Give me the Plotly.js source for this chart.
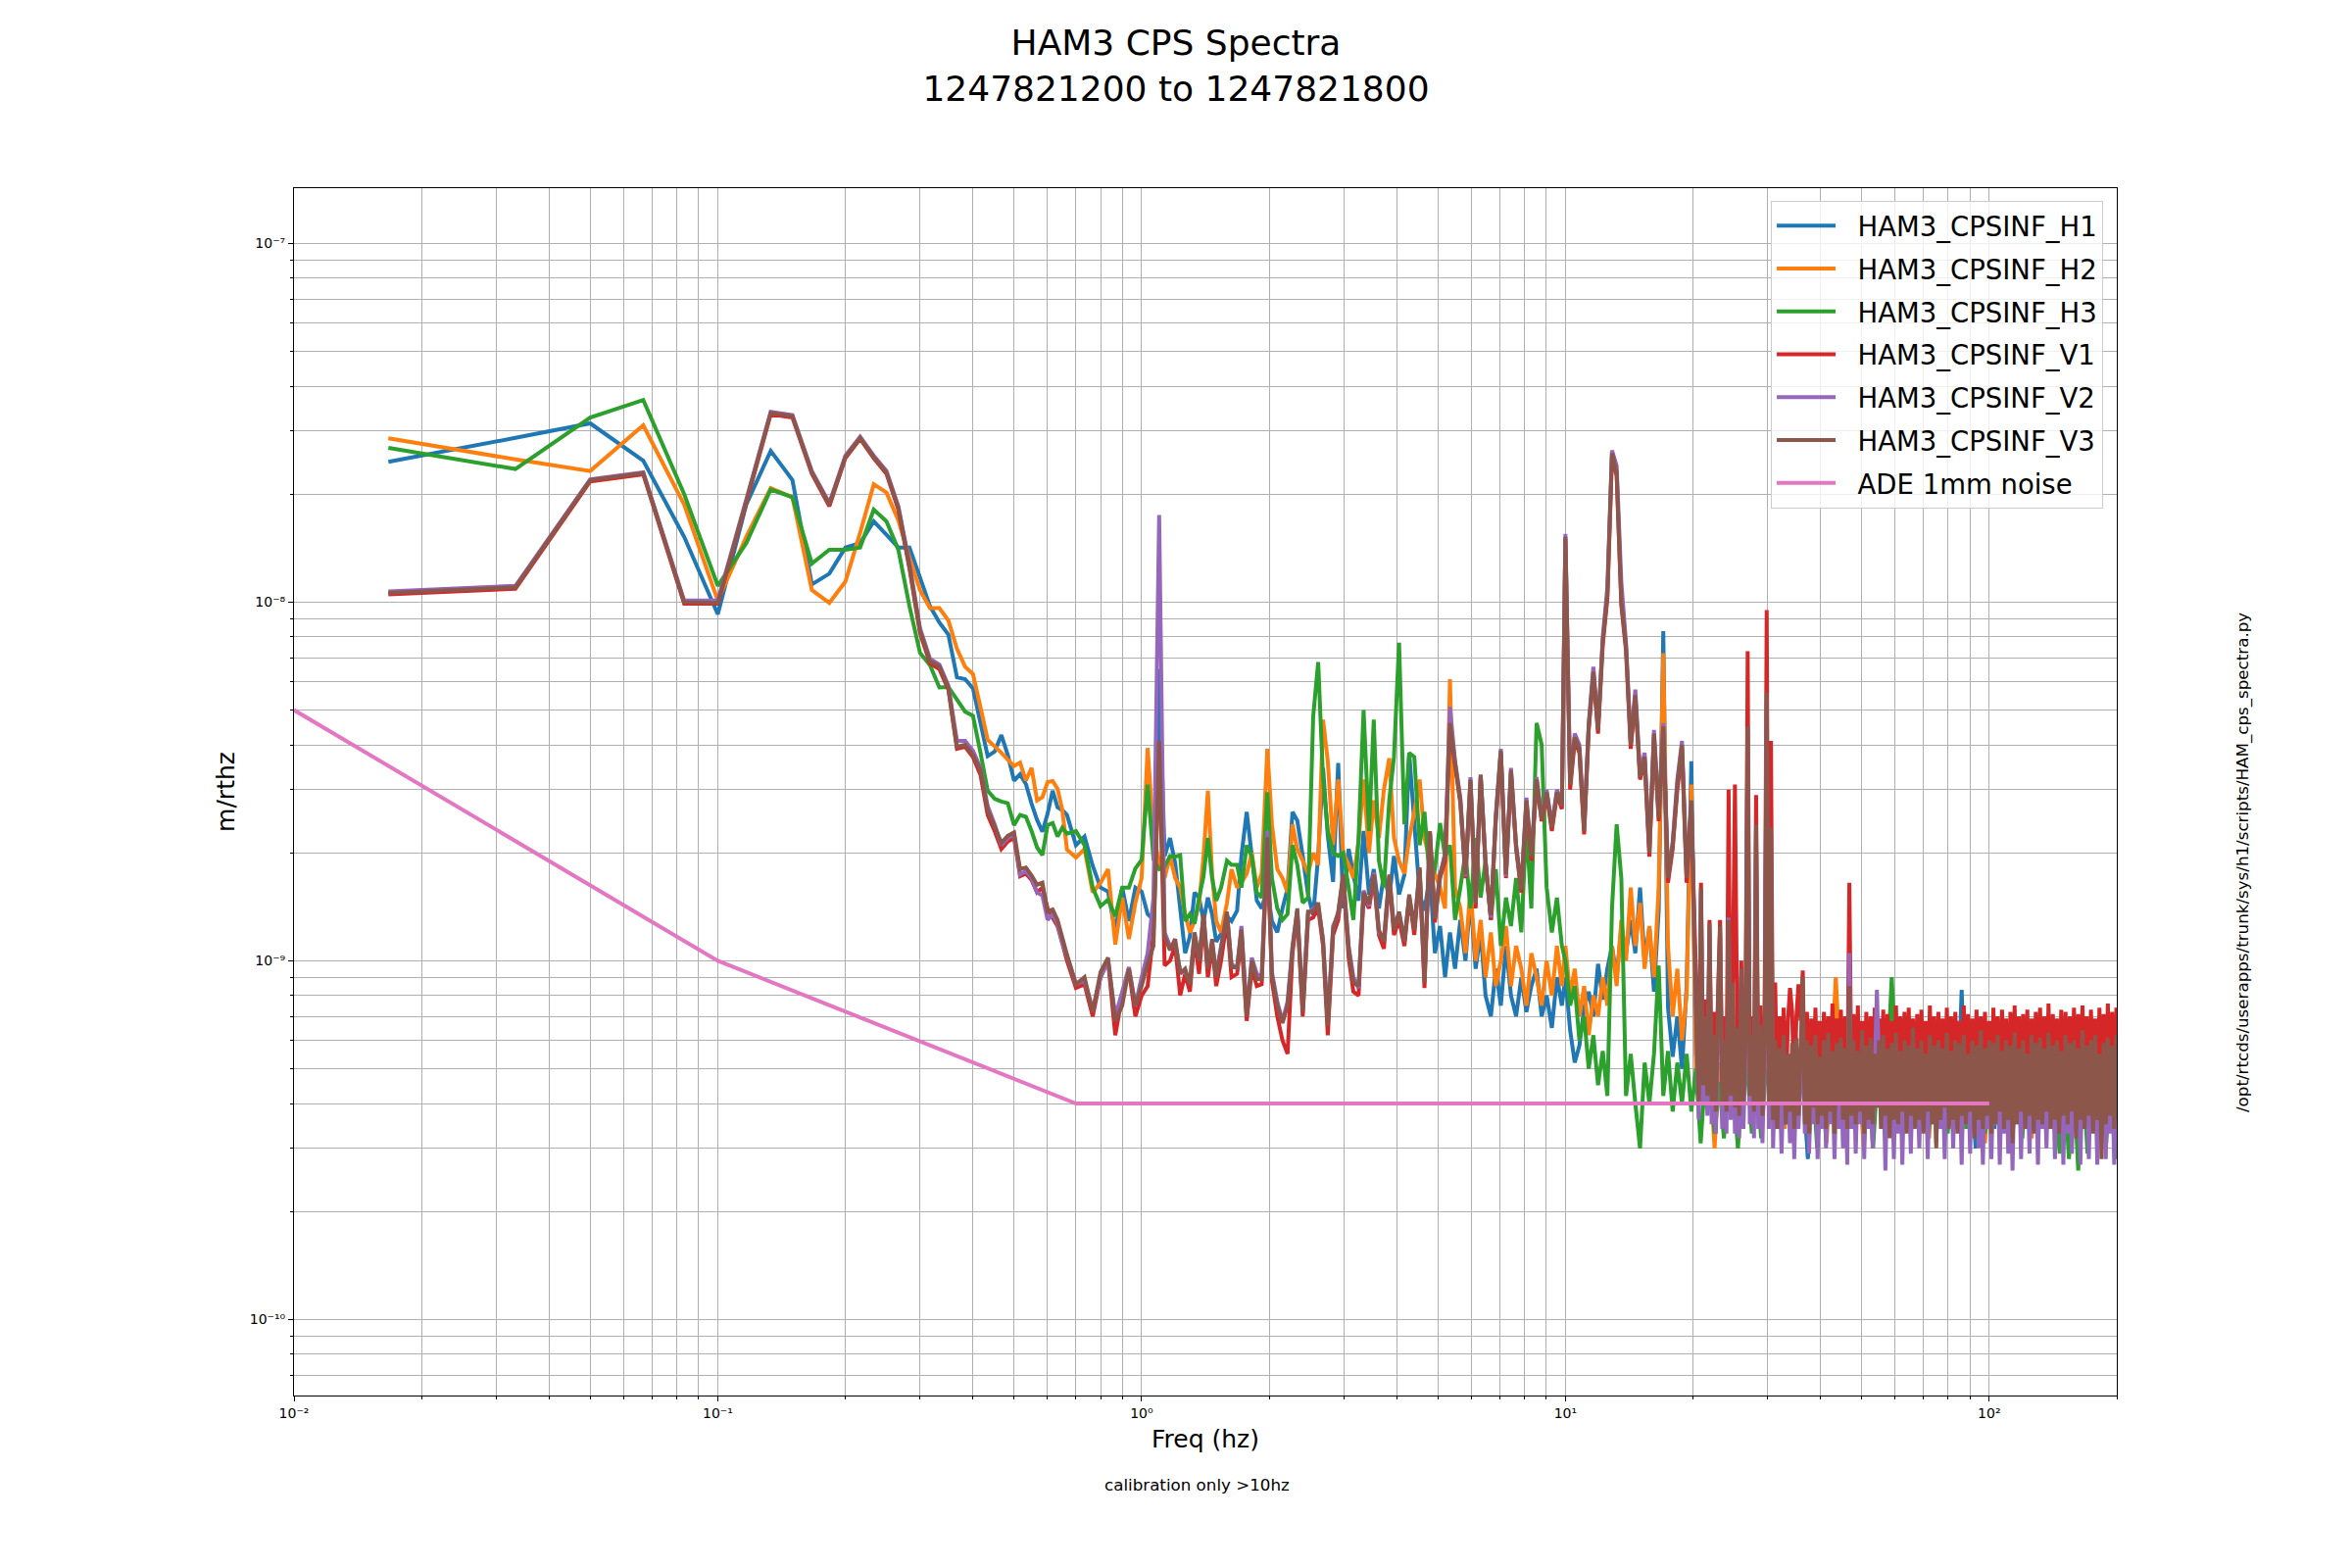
<!DOCTYPE html>
<html>
<head>
<meta charset="utf-8">
<script src="https://cdn.plot.ly/plotly-3.0.1.min.js"></script>
<style>
  html, body { margin: 0; padding: 0; background: #ffffff; }
  #chart { width: 2400px; height: 1600px; }
</style>
</head>
<body>
<div id="chart"></div>
<script>
// ---------------- DATA (values in units of 1e-9 m/rthz) ----------------
const NANO = 1e-9;

// frequency bins (Hz)
const FREQ_LO = [0.0167,0.0333,0.05,0.0667,0.0833,0.1,0.1167,0.1333,0.15,0.1667,0.1833,0.2,0.2167,0.2333,0.25,0.2667,0.2833,0.3,0.3167,0.3333,0.35,0.3667,0.3833,0.4,0.4167,0.4333,0.45,0.4667,0.4833,0.5,0.5167,0.5333,0.55,0.5667,0.5833,0.6,0.6167,0.6333,0.65,0.6667];
const FREQ_B = [0.7,0.7333,0.7667,0.8,0.8333,0.8667,0.9,0.9333,0.9667,1.0,1.0333,1.0667,1.1,1.1333,1.1667,1.2,1.2333,1.2667,1.3,1.3333,1.3667,1.4,1.4333,1.4667,1.5];
const FREQ_MID = [1.54,1.59,1.63,1.68,1.72,1.77,1.82,1.87,1.92,1.98,2.03,2.09,2.15,2.21,2.27,2.33,2.40,2.47,2.54,2.61,2.68,2.75,2.83,2.91,2.99,3.08,3.16,3.25,3.34,3.44,3.53,3.63,3.73,3.84,3.94,4.05,4.17,4.28,4.40,4.53,4.65,4.79,4.92,5.06,5.20,5.34,5.49,5.65,5.81,5.97,6.14,6.31,6.48,6.67,6.85,7.04,7.24,7.44,7.65,7.87,8.09,8.31,8.55,8.79,9.03,9.29,9.55,9.81];
const FREQ_HI = [10.0,10.26,10.52,10.79,11.07,11.35,11.64,11.94,12.25,12.56,12.88,13.21,13.55,13.9,14.26,14.62,15.0,15.38,15.78,16.18,16.6,17.02,17.46,17.91,18.37,18.84,19.32,19.82];
// H-channels above 20 Hz
const FREQ_TAIL = [20.32,20.85,21.38,21.93,22.49,23.07,23.66,24.27,24.89,25.53,26.18,26.86,27.54,28.25,28.97,29.72,30.48,31.26,32.06,32.89,33.73,34.59,35.48,36.39,37.33,38.28,39.26,40.27,41.3,42.36,43.45,44.57,45.71,46.88,48.08,49.32,50.58,51.88,53.21,54.58,55.98,57.41,58.88,60.39,61.94,63.53,65.16,66.83,68.55,70.3,72.11,73.96,75.86,77.8,79.8,81.85,83.95,86.1,88.31,90.57,92.9,95.28,97.72,100.2,102.8,105.4,108.1,110.9,113.8,116.7,119.7,122.7,125.9,129.1,132.4,135.8,139.3,142.9,146.6,150.3,154.2,158.1,162.2,166.3,170.6,175.0,179.5,184.1,188.8,193.6,198.6,200];
// V-channels above 20 Hz (finer sampling of the dense band)
const FREQ_BAND = [20.42,20.65,20.89,21.13,21.38,21.63,21.88,22.13,22.39,22.65,22.91,23.17,23.44,23.71,23.99,24.27,24.55,24.83,25.12,25.41,25.70,26.00,26.30,26.61,26.92,27.23,27.54,27.86,28.18,28.51,28.84,29.17,29.51,29.85,30.20,30.55,30.90,31.26,31.62,31.99,32.36,32.73,33.11,33.50,33.88,34.28,34.67,35.08,35.48,35.89,36.31,36.73,37.15,37.58,38.02,38.46,38.90,39.36,39.81,40.27,40.74,41.21,41.69,42.17,42.66,43.15,43.65,44.16,44.67,45.19,45.71,46.24,46.77,47.32,47.86,48.42,48.98,49.55,50.12,50.70,51.29,51.88,52.48,53.09,53.70,54.33,54.95,55.59,56.23,56.89,57.54,58.21,58.88,59.57,60.26,60.95,61.66,62.37,63.10,63.83,64.57,65.31,66.07,66.83,67.61,68.39,69.18,69.98,70.79,71.61,72.44,73.28,74.13,74.99,75.86,76.74,77.62,78.52,79.43,80.35,81.28,82.22,83.18,84.14,85.11,86.10,87.10,88.10,89.13,90.16,91.20,92.26,93.33,94.41,95.50,96.61,97.72,98.86,100.0,101.2,102.3,103.5,104.7,105.9,107.2,108.4,109.6,110.9,112.2,113.5,114.8,116.1,117.5,118.9,120.2,121.6,123.0,124.5,125.9,127.4,128.8,130.3,131.8,133.4,134.9,136.5,138.0,139.6,141.3,142.9,144.5,146.2,147.9,149.6,151.4,153.1,154.9,156.7,158.5,160.3,162.2,164.1,166.0,167.9,169.8,171.8,173.8,175.8,177.8,179.9,182.0,184.1,186.2,188.4,190.5,192.8,195.0,197.2,199.5,200];

// HAM3_CPSINF_H1
const H1_LO = [24.6,28.7,31.5,24.8,15.2,9.25,18.7,26.4,21.9,11.2,12.0,14.2,14.6,16.8,15.4,14.2,14.2,11.7,9.74,8.77,8.11,6.17,6.1,5.75,4.6,3.72,3.83,4.26,3.75,3.18,3.31,3.11,2.74,2.47,2.29,2.57,2.98,2.68,2.63,2.55];
const H1_B = [2.1,2.22,1.84,1.6,1.56,1.2,1.6,1.29,1.6,1.56,1.35,1.3,6.5,1.96,2.2,1.87,1.4,1.05,1.17,1.55,1.5,1.29,1.5,1.35,1.13];
const H1_MID = [1.19,1.33,1.29,1.38,1.96,2.6,1.96,1.47,1.4,1.59,1.29,1.2,1.4,1.59,2.6,2.46,1.96,1.53,1.34,1.96,3.45,2.23,1.66,3.56,1.4,2.05,1.74,1.47,2.3,1.53,1.8,1.4,1.74,1.5,1.96,1.53,1.74,3.8,2.42,1.53,1.38,1.74,1.05,1.25,0.9,1.2,0.95,1.3,1.0,1.5,0.95,1.2,0.8,0.7,0.95,0.75,1.1,0.8,0.7,0.9,0.72,0.85,0.95,0.7,0.8,0.65,0.9,0.75];
const H1_HI = [0.9,0.64,0.52,0.58,0.74,0.82,0.7,0.98,0.78,0.95,1.1,0.9,1.24,1.05,1.3,1.05,1.6,1.0,1.24,0.82,1.38,8.3,0.74,0.54,0.7,0.5,0.85,3.6];
const H1_TAIL = [0.55,0.45,0.6,0.5,0.36,0.52,0.34,0.55,0.5,0.33,0.5,0.55,0.36,0.5,0.34,0.55,0.5,
  0.34,0.48,0.35,0.47,0.36,0.5,0.45,0.28,0.48,0.34,0.47,0.35,0.5,0.34,0.47,0.36,0.55,0.34,0.48,0.35,0.46,0.34,0.48,0.36,0.47,0.34,0.5,0.35,0.47,0.34,0.48,0.36,0.5,0.34,0.69,0.35,0.47,0.34,0.48,0.35,0.83,0.34,0.48,0.3,0.47,0.35,0.48,0.34,0.47,0.36,0.5,0.34,0.48,0.35,0.47,0.34,0.48,0.35,0.47,0.36,0.48,0.3,0.47,0.34,0.48,0.35,0.47,0.34,0.48,0.35,0.47,0.34,0.48,0.35,0.47];

// HAM3_CPSINF_H2
const H2_LO = [28.6,25.0,23.2,31.1,18.7,10.1,15.2,20.8,19.6,10.8,9.95,11.4,15.6,21.3,20.2,16.9,13.3,10.8,9.62,9.62,8.89,7.41,6.6,6.3,5.09,4.13,3.96,3.8,3.64,3.49,3.57,3.18,3.45,2.8,2.86,3.15,3.17,3.02,2.63,2.04];
const H2_B = [1.94,2.05,1.55,1.65,1.8,1.11,1.5,1.15,1.45,1.7,3.92,2.22,1.9,1.7,1.96,1.7,1.6,1.35,1.2,1.29,1.44,1.96,2.98,1.75,1.29];
const H2_MID = [1.2,1.45,1.8,1.6,1.65,1.75,2.0,1.6,1.75,3.9,2.4,1.8,1.7,1.55,2.4,2.05,1.9,1.75,2.0,1.85,4.7,3.6,2.1,3.2,2.0,1.85,1.7,2.15,3.2,2.0,2.8,2.2,3.0,3.67,2.2,1.9,1.75,2.2,2.6,3.2,2.2,1.9,1.75,1.6,1.4,6.1,1.6,1.4,1.05,1.6,1.0,1.3,0.9,1.2,0.85,1.0,1.25,0.85,1.1,0.95,0.75,1.05,0.9,0.75,1.0,0.8,1.1,0.85];
const H2_HI = [1.1,0.8,0.95,0.7,0.85,0.62,0.8,0.7,0.9,0.75,1.1,0.85,1.3,1.0,1.6,1.1,1.45,0.95,1.25,0.9,1.6,7.2,1.1,0.7,0.95,0.6,0.8,3.1];
const H2_TAIL = [0.5,0.45,0.55,0.5,0.3,0.52,0.35,0.55,0.5,0.36,0.5,0.6,0.35,0.52,0.34,0.56,0.5,
  0.35,0.48,0.34,0.5,0.35,0.47,0.5,0.35,0.48,0.34,0.47,0.31,0.5,0.9,0.48,0.35,0.6,0.34,0.47,0.3,0.48,0.35,0.5,0.34,0.47,0.35,0.48,0.34,0.5,0.36,0.47,0.34,0.48,0.32,0.5,0.35,0.47,0.34,0.48,0.35,0.5,0.34,0.47,0.35,0.48,0.31,0.47,0.35,0.5,0.34,0.48,0.35,0.47,0.34,0.5,0.32,0.48,0.35,0.47,0.34,0.48,0.35,0.5,0.31,0.47,0.35,0.48,0.34,0.5,0.33,0.47,0.35,0.48,0.34,0.5];

// HAM3_CPSINF_H3
const H3_LO = [26.9,23.5,32.7,36.6,20.0,11.1,14.6,20.6,19.6,12.8,14.0,14.0,14.2,18.1,16.8,14.0,9.74,7.22,6.67,5.78,5.8,5.35,4.95,4.82,3.8,2.98,2.83,2.78,2.75,2.39,2.55,2.52,2.3,2.07,1.97,2.39,2.42,2.22,2.35,2.26];
const H3_B = [2.3,2.1,1.6,1.42,1.48,1.33,1.6,1.6,1.81,1.91,3.1,1.92,1.8,1.83,1.96,1.95,1.97,1.29,1.35,1.27,1.5,1.72,2.2,1.7,1.47];
const H3_MID = [1.6,1.9,1.85,1.85,1.6,2.1,1.95,1.55,1.5,2.95,1.7,1.4,1.3,1.35,2.1,1.85,1.45,1.5,4.8,6.8,3.2,2.3,2.0,1.96,2.0,1.6,1.3,2.2,5.0,2.3,4.7,1.9,1.6,2.8,3.7,7.7,2.4,3.8,3.7,2.1,2.6,1.65,1.8,2.42,1.95,2.1,1.3,1.6,2.0,1.4,2.2,1.5,1.9,1.3,1.8,1.1,1.5,1.25,1.7,1.2,2.4,1.4,4.6,4.0,1.6,1.2,1.5,1.1];
const H3_HI = [1.0,0.75,0.85,0.6,0.7,0.5,0.62,0.45,0.56,0.42,1.4,2.4,1.7,0.42,0.55,0.4,0.3,0.52,0.4,0.55,0.97,0.42,0.56,0.38,0.52,0.4,0.55,0.38];
const H3_TAIL = [0.5,0.31,0.48,0.47,0.33,0.46,0.32,0.48,0.45,0.3,0.47,0.5,0.33,0.48,0.32,0.5,0.47,
  0.34,0.47,0.35,0.5,0.34,0.47,0.48,0.35,0.5,0.3,0.47,0.35,0.48,0.34,0.5,0.35,0.55,0.34,0.47,0.35,0.48,0.3,0.5,0.34,0.47,0.9,0.48,0.35,0.47,0.34,0.5,0.35,0.48,0.34,0.47,0.35,0.5,0.33,0.48,0.35,0.47,0.34,0.5,0.35,0.48,0.33,0.47,0.35,0.5,0.34,0.48,0.35,0.47,0.32,0.5,0.34,0.47,0.35,0.48,0.34,0.5,0.29,0.47,0.28,0.48,0.26,0.5,0.29,0.47,0.34,0.48,0.31,0.5,0.28,0.47];

// HAM3_CPSINF_V1
const V1_LO = [10.5,10.9,21.7,22.7,9.9,9.9,18.9,33.4,32.7,22.8,18.5,25.2,28.5,25.2,22.8,18.1,12.4,8.2,6.75,6.5,5.7,3.9,3.95,3.7,3.3,2.55,2.3,2.05,2.15,2.2,1.72,1.75,1.68,1.55,1.6,1.4,1.32,1.25,1.12,1.0];
const V1_B = [0.84,0.86,0.7,0.9,1.0,0.62,0.8,0.94,0.7,0.8,0.85,1.2,3.9,0.97,1.0,1.1,0.8,0.92,0.82,1.15,0.92,1.3,0.9,1.1,0.85];
const V1_MID = [1.0,1.3,0.9,0.92,1.15,0.68,0.95,0.85,0.86,2.1,0.88,0.7,0.6,0.55,1.05,1.35,0.7,1.3,1.32,1.4,1.1,0.62,1.18,1.3,1.7,1.02,0.82,0.8,1.5,1.4,1.7,1.18,1.08,1.7,1.18,1.3,1.1,1.5,1.18,1.78,0.84,2.25,1.28,1.7,1.9,4.5,3.5,2.75,1.7,3.15,1.4,3.25,1.85,1.3,2.45,3.8,1.7,3.35,2.05,1.55,2.75,1.9,3.15,2.45,2.9,2.3,2.9,2.65];
const V1_HI = [15.0,3.0,4.1,3.8,2.25,4.4,6.3,4.3,7.6,10.2,25.5,22.5,9.8,7.3,3.9,5.4,3.2,3.6,1.95,4.2,2.45,4.4,1.65,2.05,3.0,3.9,1.65,2.7];
const V1_BAND = [0.75,0.45,1.65,0.5,0.78,0.45,1.3,0.45,0.72,0.42,0.8,1.3,0.45,0.7,0.42,3.0,0.46,0.9,3.1,0.72,0.42,1.0,0.45,0.7,7.3,0.46,0.7,0.43,2.9,0.45,0.75,0.42,0.7,9.5,0.45,4.1,
  0.42,0.87,0.4,0.7,0.44,0.74,0.41,0.68,0.84,0.72,0.41,0.7,0.86,0.68,0.94,0.42,0.72,0.4,0.69,0.43,0.74,0.41,0.68,0.44,0.72,0.4,0.7,0.43,0.76,0.41,0.69,0.44,0.73,0.41,0.7,0.42,1.65,0.43,0.71,0.4,0.75,0.42,0.68,0.43,0.72,0.4,0.7,0.44,0.74,0.41,
  0.69,0.43,0.73,0.4,0.71,0.42,0.68,0.44,0.75,0.41,0.7,0.43,0.72,0.4,0.74,0.42,0.69,0.44,0.71,0.41,0.73,0.43,0.68,0.4,0.75,0.42,0.7,0.41,0.72,0.44,0.69,0.4,0.74,0.43,0.7,0.41,0.72,0.44,0.68,0.42,0.75,0.4,0.71,0.43,0.69,0.42,0.73,0.41,0.7,0.44,
  0.72,0.4,0.68,0.43,0.74,0.41,0.7,0.42,0.73,0.44,0.69,0.41,0.72,0.4,0.75,0.43,0.7,0.42,0.71,0.44,0.73,0.4,0.69,0.42,0.72,0.41,0.74,0.43,0.7,0.4,0.76,0.42,0.71,0.44,0.69,0.41,0.73,0.4,0.72,0.43,0.7,0.42,0.74,0.41,0.71,0.43,0.75,0.4,0.7,0.42,
  0.73,0.44,0.69,0.41,0.74,0.42,0.71,0.4,0.76,0.43,0.72,0.41,0.74,0.42];

// HAM3_CPSINF_V2
const V2_LO = [10.7,11.1,22.0,23.0,10.1,10.1,19.3,33.9,33.2,23.2,18.9,25.6,28.9,25.6,23.2,18.5,12.8,8.45,6.95,6.7,5.85,4.1,4.1,3.85,3.45,2.7,2.4,2.1,2.2,2.25,1.74,1.78,1.7,1.55,1.52,1.3,1.35,1.27,1.12,1.03];
const V2_B = [0.86,0.88,0.73,0.9,1.0,0.7,0.82,0.96,0.75,0.9,1.05,1.5,17.5,1.2,1.1,1.12,0.94,0.93,0.88,1.18,1.02,1.33,0.97,1.12,0.92];
const V2_MID = [1.1,1.35,0.98,0.95,1.25,0.72,1.02,0.92,0.9,2.3,0.93,0.77,0.68,0.77,1.1,1.38,0.75,1.35,1.4,1.43,1.15,0.68,1.25,1.35,1.72,1.1,0.9,0.84,1.57,1.42,1.76,1.2,1.15,1.72,1.25,1.35,1.15,1.5,1.25,1.8,0.9,2.28,1.33,1.72,2.0,5.1,3.6,2.85,1.72,3.25,1.46,3.3,1.9,1.32,2.55,3.9,1.72,3.45,2.1,1.6,2.85,1.97,3.25,2.5,3.0,2.4,3.0,2.75];
const V2_HI = [15.5,3.2,4.3,4.0,2.4,4.6,6.6,4.5,8.0,11.0,26.5,24,11.4,7.7,4.1,5.7,3.35,3.8,2.05,4.4,2.6,4.6,1.75,2.15,3.2,4.1,1.75,2.75];
const V2_BAND = [0.55,0.36,1.55,0.4,0.62,0.37,1.2,0.35,0.55,0.33,0.65,1.2,0.34,0.55,0.33,1.32,0.36,0.8,0.33,0.58,0.32,0.9,0.34,0.55,4.4,0.35,0.56,0.32,2.3,0.34,0.6,0.31,0.55,5.4,0.34,2.25,
  0.3,0.5,0.34,0.48,0.29,0.5,0.35,0.47,0.31,0.5,0.28,0.5,0.34,0.48,0.6,0.33,0.5,0.29,0.47,0.35,0.5,0.28,0.48,0.34,0.5,0.3,0.49,0.35,0.47,0.28,0.5,0.34,0.48,0.3,0.5,0.27,1.05,0.34,0.5,0.29,0.48,0.35,0.5,0.28,0.49,0.34,0.47,0.3,0.5,0.83,
  0.5,0.34,0.48,0.26,0.5,0.35,0.49,0.28,0.5,0.33,0.48,0.27,0.5,0.34,0.49,0.29,0.5,0.35,0.47,0.3,0.5,0.34,0.48,0.28,0.5,0.35,0.49,0.31,0.5,0.34,0.48,0.28,0.5,0.35,0.49,0.3,0.5,0.34,0.48,0.27,0.5,0.35,0.49,0.29,0.5,0.34,0.48,0.3,0.5,0.27,
  0.49,0.34,0.5,0.28,0.48,0.35,0.5,0.27,0.49,0.33,0.5,0.29,0.48,0.26,0.5,0.35,0.49,0.28,0.5,0.34,0.48,0.29,0.5,0.35,0.49,0.27,0.5,0.34,0.48,0.3,0.5,0.35,0.49,0.28,0.5,0.34,0.48,0.27,0.5,0.33,0.49,0.29,0.5,0.35,0.48,0.27,0.5,0.34,0.49,0.28,
  0.5,0.34,0.48,0.27,0.5,0.35,0.49,0.28,0.5,0.33,0.48,0.27,0.5,0.34];

// HAM3_CPSINF_V3
const V3_LO = [10.6,11.0,21.9,22.9,10.0,9.95,19.1,33.7,33.0,23.0,18.7,25.4,28.7,25.4,23.0,18.3,12.6,8.33,6.85,6.62,5.78,3.95,4.0,3.75,3.4,2.63,2.37,2.13,2.23,2.28,1.8,1.82,1.73,1.63,1.65,1.37,1.39,1.3,1.16,1.04];
const V3_B = [0.86,0.9,0.72,0.93,1.02,0.68,0.75,0.95,0.75,0.85,0.98,1.1,4.1,1.17,1.07,1.15,0.92,0.95,0.86,1.2,1.0,1.35,0.95,1.15,0.9];
const V3_MID = [1.08,1.37,0.96,0.96,1.22,0.7,1.0,0.89,0.89,2.21,0.91,0.75,0.67,0.75,1.08,1.4,0.72,1.37,1.37,1.45,1.13,0.66,1.22,1.37,1.74,1.08,0.87,0.85,1.55,1.44,1.74,1.22,1.13,1.74,1.22,1.37,1.13,1.53,1.22,1.82,0.87,2.3,1.31,1.74,1.96,4.6,3.57,2.8,1.74,3.2,1.44,3.3,1.87,1.34,2.5,3.85,1.74,3.4,2.1,1.58,2.8,1.95,3.2,2.48,2.95,2.35,2.95,2.7];
const V3_HI = [15.2,3.1,4.2,3.9,2.3,4.5,6.4,4.4,7.8,10.5,26,23,10,7.5,4.0,5.5,3.25,3.7,2.0,4.3,2.5,4.5,1.7,2.1,3.1,4.0,1.7,2.8];
const V3_BAND = [0.6,0.4,1.6,0.45,0.7,0.42,1.27,0.4,0.62,0.38,0.75,1.25,0.4,0.6,0.38,1.3,0.42,0.87,0.39,0.65,0.37,0.95,0.4,0.6,4.5,0.42,0.62,0.38,2.4,0.4,0.66,0.37,0.6,5.6,0.4,2.35,
  0.36,0.6,0.34,0.57,0.4,0.62,0.35,0.55,0.38,0.59,0.34,0.61,0.37,0.56,0.9,0.35,0.6,0.33,0.58,0.39,0.62,0.35,0.54,0.37,0.6,0.34,0.63,0.38,0.56,0.33,0.59,0.4,0.61,0.36,0.57,0.34,0.85,0.37,0.6,0.35,0.56,0.38,0.64,0.33,0.58,0.36,0.61,0.35,0.55,0.39,
  0.6,0.34,0.62,0.37,0.57,0.32,0.59,0.36,0.63,0.35,0.56,0.38,0.6,0.33,0.58,0.37,0.65,0.34,0.57,0.36,0.6,0.33,0.55,0.38,0.62,0.35,0.58,0.3,0.6,0.36,0.57,0.39,0.63,0.34,0.56,0.36,0.6,0.33,0.59,0.37,0.62,0.35,0.55,0.38,0.6,0.32,0.58,0.36,0.64,0.34,
  0.57,0.37,0.6,0.33,0.59,0.35,0.62,0.38,0.56,0.34,0.6,0.36,0.58,0.31,0.63,0.35,0.57,0.38,0.6,0.34,0.55,0.37,0.62,0.33,0.59,0.36,0.61,0.35,0.57,0.38,0.63,0.34,0.58,0.36,0.6,0.33,0.56,0.37,0.62,0.35,0.59,0.38,0.6,0.32,0.57,0.36,0.64,0.34,0.58,0.37,
  0.6,0.33,0.62,0.36,0.55,0.28,0.59,0.35,0.61,0.37,0.58,0.34,0.62,0.36];

// ADE 1mm noise
const ADE_FREQ = [0.01, 0.1, 0.7, 100];
const ADE_VAL = [5.0, 1.0, 0.4, 0.4];

// tick labels
const X_MAJOR = [0.01, 0.1, 1, 10, 100];
const X_MAJOR_TEXT = ['10⁻²','10⁻¹','10⁰','10¹','10²'];
const X_MINOR = [0.02,0.03,0.04,0.05,0.06,0.07,0.08,0.09,0.2,0.3,0.4,0.5,0.6,0.7,0.8,0.9,2,3,4,5,6,7,8,9,20,30,40,50,60,70,80,90,200];
const Y_MAJOR = [1e-10, 1e-9, 1e-8, 1e-7];
const Y_MAJOR_TEXT = ['10⁻¹⁰','10⁻⁹','10⁻⁸','10⁻⁷'];
const Y_MINOR = [7e-11,8e-11,9e-11,2e-10,3e-10,4e-10,5e-10,6e-10,7e-10,8e-10,9e-10,2e-9,3e-9,4e-9,5e-9,6e-9,7e-9,8e-9,9e-9,2e-8,3e-8,4e-8,5e-8,6e-8,7e-8,8e-8,9e-8];

// ---------------- PLOT ----------------
const FREQ_H = FREQ_LO.concat(FREQ_B, FREQ_MID, FREQ_HI, FREQ_TAIL);
const FREQ_V = FREQ_LO.concat(FREQ_B, FREQ_MID, FREQ_HI, FREQ_BAND);
const SERIES = [
  {name:'HAM3_CPSINF_H1', color:'#1f77b4', x:FREQ_H, parts:[H1_LO,H1_B,H1_MID,H1_HI,H1_TAIL]},
  {name:'HAM3_CPSINF_H2', color:'#ff7f0e', x:FREQ_H, parts:[H2_LO,H2_B,H2_MID,H2_HI,H2_TAIL]},
  {name:'HAM3_CPSINF_H3', color:'#2ca02c', x:FREQ_H, parts:[H3_LO,H3_B,H3_MID,H3_HI,H3_TAIL]},
  {name:'HAM3_CPSINF_V1', color:'#d62728', x:FREQ_V, parts:[V1_LO,V1_B,V1_MID,V1_HI,V1_BAND]},
  {name:'HAM3_CPSINF_V2', color:'#9467bd', x:FREQ_V, parts:[V2_LO,V2_B,V2_MID,V2_HI,V2_BAND]},
  {name:'HAM3_CPSINF_V3', color:'#8c564b', x:FREQ_V, parts:[V3_LO,V3_B,V3_MID,V3_HI,V3_BAND]}
];
const LW = 4;
const PAD = '\u00a0\u00a0';
const traces = SERIES.map((s, i) => ({
  type:'scatter', mode:'lines', name:PAD + s.name, legendgroup:'g'+i,
  x: s.x,
  y: [].concat(...s.parts).map(v => v * NANO),
  line:{color:s.color, width:LW, simplify:false},
  hoverinfo:'skip'
}));
traces.push({
  type:'scatter', mode:'lines', name:PAD + 'ADE 1mm noise', legendgroup:'g6',
  x: ADE_FREQ, y: ADE_VAL.map(v => v * NANO),
  line:{color:'#e377c2', width:LW}, hoverinfo:'skip'
});

const FONT = 'DejaVu Sans, Liberation Sans, sans-serif';
const GRID = '#b0b0b0';
const axisCommon = {
  type:'log', tickmode:'array', ticks:'outside', ticklen:5, tickwidth:1, tickcolor:'#000',
  showgrid:true, gridcolor:GRID, gridwidth:1, zeroline:false,
  showline:true, linecolor:'#000', linewidth:1, mirror:true,
  tickfont:{family:FONT, size:14, color:'#000'}, automargin:false
};

const layout = {
  width:2400, height:1600,
  margin:{l:300, r:240, t:192, b:176, pad:0},
  paper_bgcolor:'#ffffff', plot_bgcolor:'#ffffff',
  font:{family:FONT, color:'#000'},
  title:{
    text:'HAM3 CPS Spectra<br>1247821200 to 1247821800',
    font:{family:FONT, size:36, color:'#000'},
    x:0.5, xref:'container', xanchor:'center',
    y:0.965, yref:'container', yanchor:'top'
  },
  xaxis: Object.assign({}, axisCommon, {
    range:[-2, Math.log10(200)],
    tickvals: X_MAJOR, ticktext: X_MAJOR_TEXT,
    minor:{tickmode:'array', tickvals:X_MINOR, ticks:'outside', ticklen:3, tickwidth:1, tickcolor:'#000',
           showgrid:true, gridcolor:GRID, gridwidth:1},
    title:{text:'Freq (hz)', font:{family:FONT, size:25, color:'#000'}, standoff:10}
  }),
  yaxis: Object.assign({}, axisCommon, {
    range:[-10.212, -6.846],
    tickvals: Y_MAJOR, ticktext: Y_MAJOR_TEXT,
    minor:{tickmode:'array', tickvals:Y_MINOR, ticks:'outside', ticklen:3, tickwidth:1, tickcolor:'#000',
           showgrid:true, gridcolor:GRID, gridwidth:1},
    title:{text:'m/rthz', font:{family:FONT, size:25, color:'#000'}, standoff:8}
  }),
  showlegend:true,
  legend:{
    x:0.9925, xanchor:'right', y:0.9895, yanchor:'top',
    bgcolor:'rgba(255,255,255,0.8)', bordercolor:'#cccccc', borderwidth:1,
    font:{family:FONT, size:27.5, color:'#000'},
    tracegroupgap:5, itemwidth:60
  },
  annotations:[
    {text:'calibration only >10hz', xref:'paper', yref:'paper', x:0.4952, y:-0.0739,
     xanchor:'center', yanchor:'middle', showarrow:false, font:{family:FONT, size:16.7, color:'#000'}},
    {text:'/opt/rtcds/userapps/trunk/sys/h1/scripts/HAM_cps_spectra.py', xref:'paper', yref:'paper',
     x:1.0694, y:0.4416, xanchor:'center', yanchor:'middle', textangle:-90, showarrow:false,
     font:{family:FONT, size:16.7, color:'#000'}}
  ]
};

Plotly.newPlot('chart', traces, layout, {displayModeBar:false, staticPlot:true});
</script>
</body>
</html>
